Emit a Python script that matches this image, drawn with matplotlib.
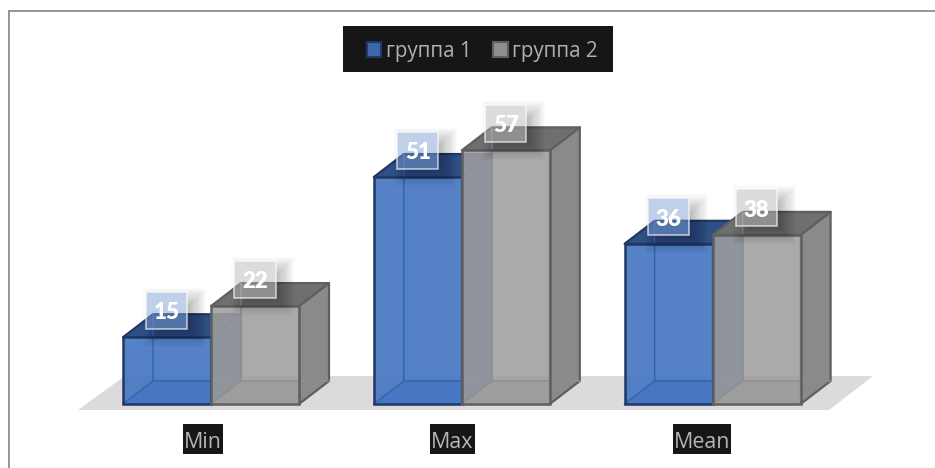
import matplotlib
matplotlib.use('Agg')
import matplotlib.pyplot as plt
from matplotlib.patches import Polygon, Rectangle, Patch
from matplotlib.path import Path

categories = ['Min', 'Max', 'Mean']
series_names = ['группа 1', 'группа 2']
group1 = [15, 51, 36]
group2 = [22, 57, 38]

plt.rcParams['font.family'] = ['Open Sans', 'DejaVu Sans']

W, H = 935, 468
# scale: pixels per category step and per unit of value
PX_X = 250.8
PX_Y = 4.45
X0 = 211
Y0 = 404

bar_w = 88 / PX_X
depth_x = 30 / PX_X
depth_y = 23 / PX_Y

fig = plt.figure(figsize=(W / 100, H / 100), dpi=100, facecolor='white')
ax = fig.add_axes([0, 0, 1, 1])
ax.set_xlim(-X0 / PX_X, (W - X0) / PX_X)
ax.set_ylim((Y0 - H) / PX_Y, Y0 / PX_Y)
ax.axis('off')

# outer chart border, only top and left are visible
ax.plot([8.5 / W, 8.5 / W, 1], [0, 1 - 10.5 / H, 1 - 10.5 / H], transform=ax.transAxes,
        color='#8c8c8c', lw=1.3, solid_joinstyle='miter', zorder=1)

# floor
floor_y0, floor_y1 = -6 / PX_Y, 28 / PX_Y
ax.add_patch(Polygon([((78 - X0) / PX_X, floor_y0), ((829 - X0) / PX_X, floor_y0),
                      ((873 - X0) / PX_X, floor_y1), ((125 - X0) / PX_X, floor_y1)],
                     closed=True, fc='#dcdadb', ec='none', zorder=2))


def draw_bar(left, value, front, side, top, floor, edge, hidden, alpha, z):
    right = left + bar_w
    dx, dy = depth_x, depth_y
    # inside of the box, seen through the front
    ax.add_patch(Polygon([(left, 0), (right, 0), (right + dx, dy), (left + dx, dy)],
                         fc=floor, ec='none', zorder=z))
    ax.plot([left, left + dx, left + dx], [0, dy, value + dy], color=hidden, lw=1.1, zorder=z + 0.3)
    ax.plot([left + dx, right + dx], [dy, dy], color=hidden, lw=1.1, zorder=z + 0.3)
    ax.add_patch(Polygon([(right, 0), (right + dx, dy), (right + dx, value + dy), (right, value)],
                         fc=side, ec=edge, lw=1.6, zorder=z + 0.1, joinstyle='round'))
    ax.add_patch(Polygon([(left, value), (right, value), (right + dx, value + dy), (left + dx, value + dy)],
                         fc=top, ec=edge, lw=1.6, zorder=z + 0.1, joinstyle='round'))
    ax.add_patch(Rectangle((left, 0), bar_w, value, fc=front, ec='none', alpha=alpha, zorder=z + 0.2))
    ax.add_patch(Rectangle((left, 0), bar_w, value, fc='none', ec=edge, lw=1.8, zorder=z + 0.4))


def draw_value(xc, value, face, z):
    yc = value + 27 / PX_Y
    w, h = 41 / PX_X, 37 / PX_Y
    x0, x1 = xc - w / 2, xc + w / 2
    y0, y1 = yc - h / 2, yc + h / 2
    # soft shadow behind the label box, kept out of the box itself
    hole = Path([(x0 - 1, -40), (x1 + 2, -40), (x1 + 2, 120), (x0 - 1, 120), (x0 - 1, -40),
                 (x0, y0), (x0, y1), (x1, y1), (x1, y0), (x0, y0)],
                [Path.MOVETO, Path.LINETO, Path.LINETO, Path.LINETO, Path.CLOSEPOLY,
                 Path.MOVETO, Path.LINETO, Path.LINETO, Path.LINETO, Path.CLOSEPOLY])
    for k in range(20):
        grow = 11 - k * 1.1
        gw, gh = grow / PX_X, grow / PX_Y
        shade = Rectangle((x0 + 8 / PX_X - gw, y0 - 7 / PX_Y - gh), w + 2 * gw, h + 2 * gh,
                          fc='black', ec='none', alpha=0.016, zorder=z)
        ax.add_patch(shade)
        shade.set_clip_path(hole, ax.transData)
    ax.add_patch(Rectangle((x0, y0), w, h, fc=face, ec=(1, 1, 1, 0.6), lw=1.3, zorder=z + 0.1))
    ax.text(xc, yc - 0.5, str(value), color='white', fontsize=16, fontweight='heavy', family='Lato',
            ha='center', va='center', zorder=z + 0.2)


renderer = fig.canvas.get_renderer()

for i, cat in enumerate(categories):
    draw_bar(i - bar_w, group1[i], '#4877c3', '#2f5597', '#2f5084', '#4773bc', '#1f3864', '#3563ad', 0.93, 3)
    draw_bar(i, group2[i], '#9e9e9e', '#8a8a8a', '#6f6f6f', '#a0a0a0', '#5f5f5f', '#8f8f8f', 0.88, 4)
    draw_value(i - bar_w / 2, group1[i], (0.486, 0.616, 0.827, 0.48), 6)
    draw_value(i + bar_w / 2, group2[i], (0.71, 0.71, 0.71, 0.47), 7)
    # category labels are spaced slightly tighter than the bars, each on its own black box
    tx = i * 249.5 / PX_X - 8 / PX_X
    ty = (Y0 - 439) / PX_Y
    label = ax.text(tx, ty - 3 / PX_Y, cat, color='#b5b5b5', fontsize=15.4, ha='center', va='center', zorder=8.5)
    tw = label.get_window_extent(renderer).width / PX_X
    ax.add_patch(Rectangle((tx - tw / 2 - 1 / PX_X, ty - 15 / PX_Y), tw + 2 / PX_X, 30 / PX_Y,
                           fc='#161616', ec='none', zorder=8))

# legend on a black band
ax.add_patch(Rectangle((343 / W, 1 - 72 / H), 270 / W, 46 / H, transform=ax.transAxes,
                       fc='#161616', ec='none', zorder=8))
handles = [Patch(fc='#3f66ad', ec='#1f3864', lw=1.5), Patch(fc='#8f8f8f', ec='#5f5f5f', lw=1.5)]
leg = ax.legend(handles, series_names, loc='center', bbox_to_anchor=(482 / W, 1 - 51 / H), ncol=2,
                frameon=False, fontsize=14.8, labelcolor='#b0b0b0', handlelength=0.72, handleheight=0.72,
                handletextpad=0.2, columnspacing=1.05, borderpad=0, borderaxespad=0)
leg.set_zorder(9)

fig.savefig('out.png', dpi=100)
